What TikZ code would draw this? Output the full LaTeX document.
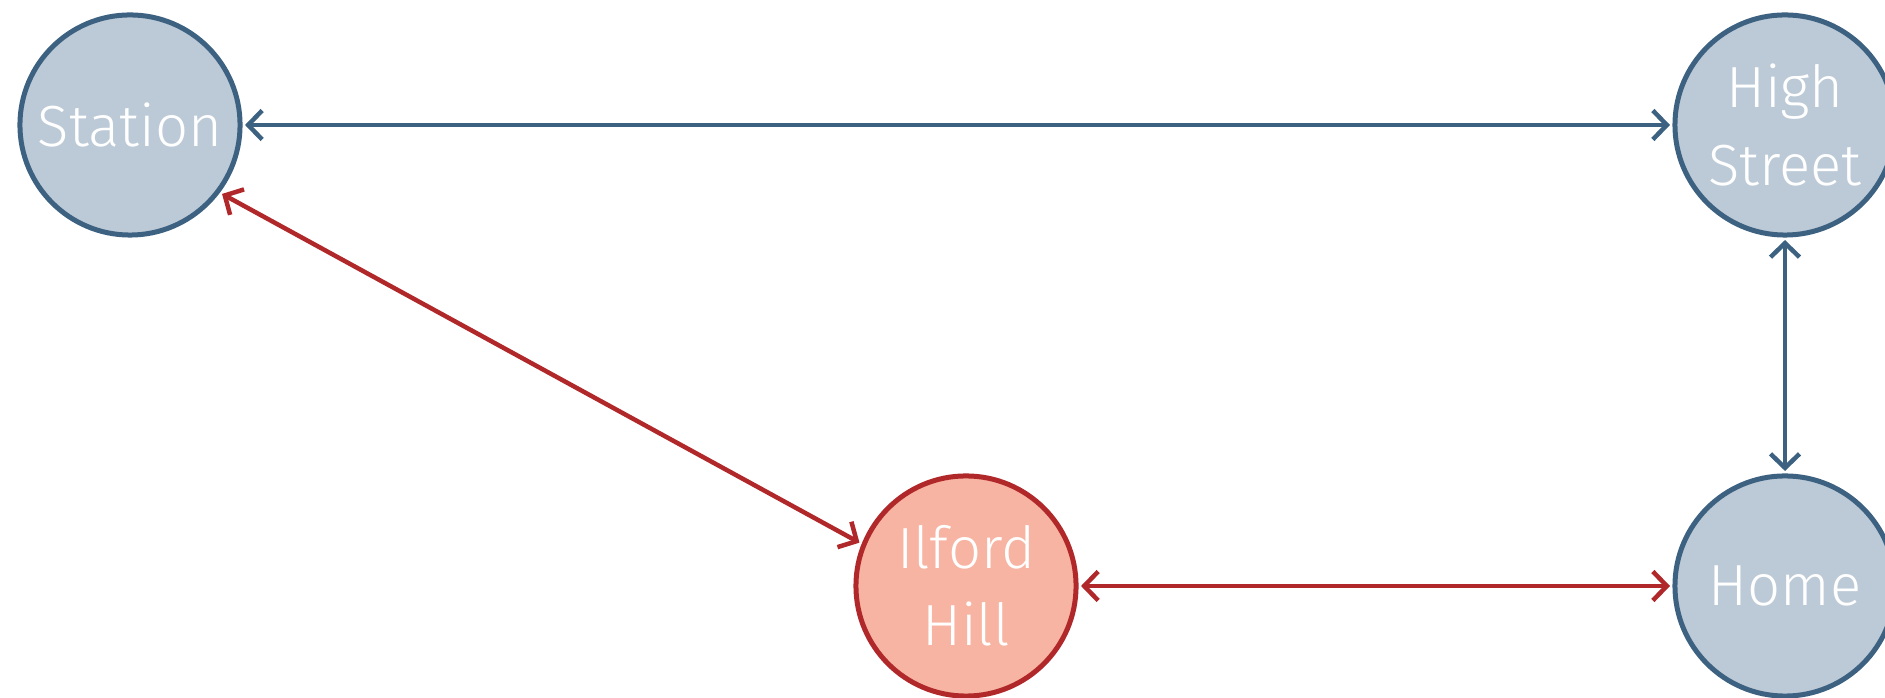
\documentclass[tikz,border=0pt]{standalone}
\usepackage{fontspec}
\setmainfont{Fira Sans}[UprightFont=* Light]
\usetikzlibrary{arrows.meta}
\definecolor{stopline}{HTML}{3D6180}
\definecolor{stopfill}{HTML}{BCCAD7}
\definecolor{hillline}{HTML}{B0282A}
\definecolor{hillfill}{HTML}{F7B4A2}
\tikzset{
  stop/.style={circle, draw=stopline, fill=stopfill, line width=0.05cm, minimum size=2.2cm, inner sep=0pt, text=white, align=center, font=\fontsize{16.5}{22}\selectfont},
  hill/.style={stop, draw=hillline, fill=hillfill},
  link/.style={line width=0.045cm, {Straight Barb[length=1.4mm,width=2.9mm]}-{Straight Barb[length=1.4mm,width=2.9mm]}, shorten <=0.7pt, shorten >=0.7pt},
}
\begin{document}
\begin{tikzpicture}[x=0.01cm, y=-0.01cm]
  \useasboundingbox (0,0) rectangle (1885,698);
  % haltestellen
  \node[stop] (station) at (130,125) {Station};
  \node[stop] (high) at (1785,125) {High\\Street};
  \node[hill] (ilford) at (966,586) {Ilford\\Hill};
  \node[stop] (home) at (1785,586) {Home};
  % verbindungen
  \draw[link, stopline] (station) -- (high);
  \draw[link, stopline] (high) -- (home);
  \draw[link, hillline] (station.-37) -- (ilford.158);
  \draw[link, hillline] (ilford) -- (home);
\end{tikzpicture}
\end{document}
